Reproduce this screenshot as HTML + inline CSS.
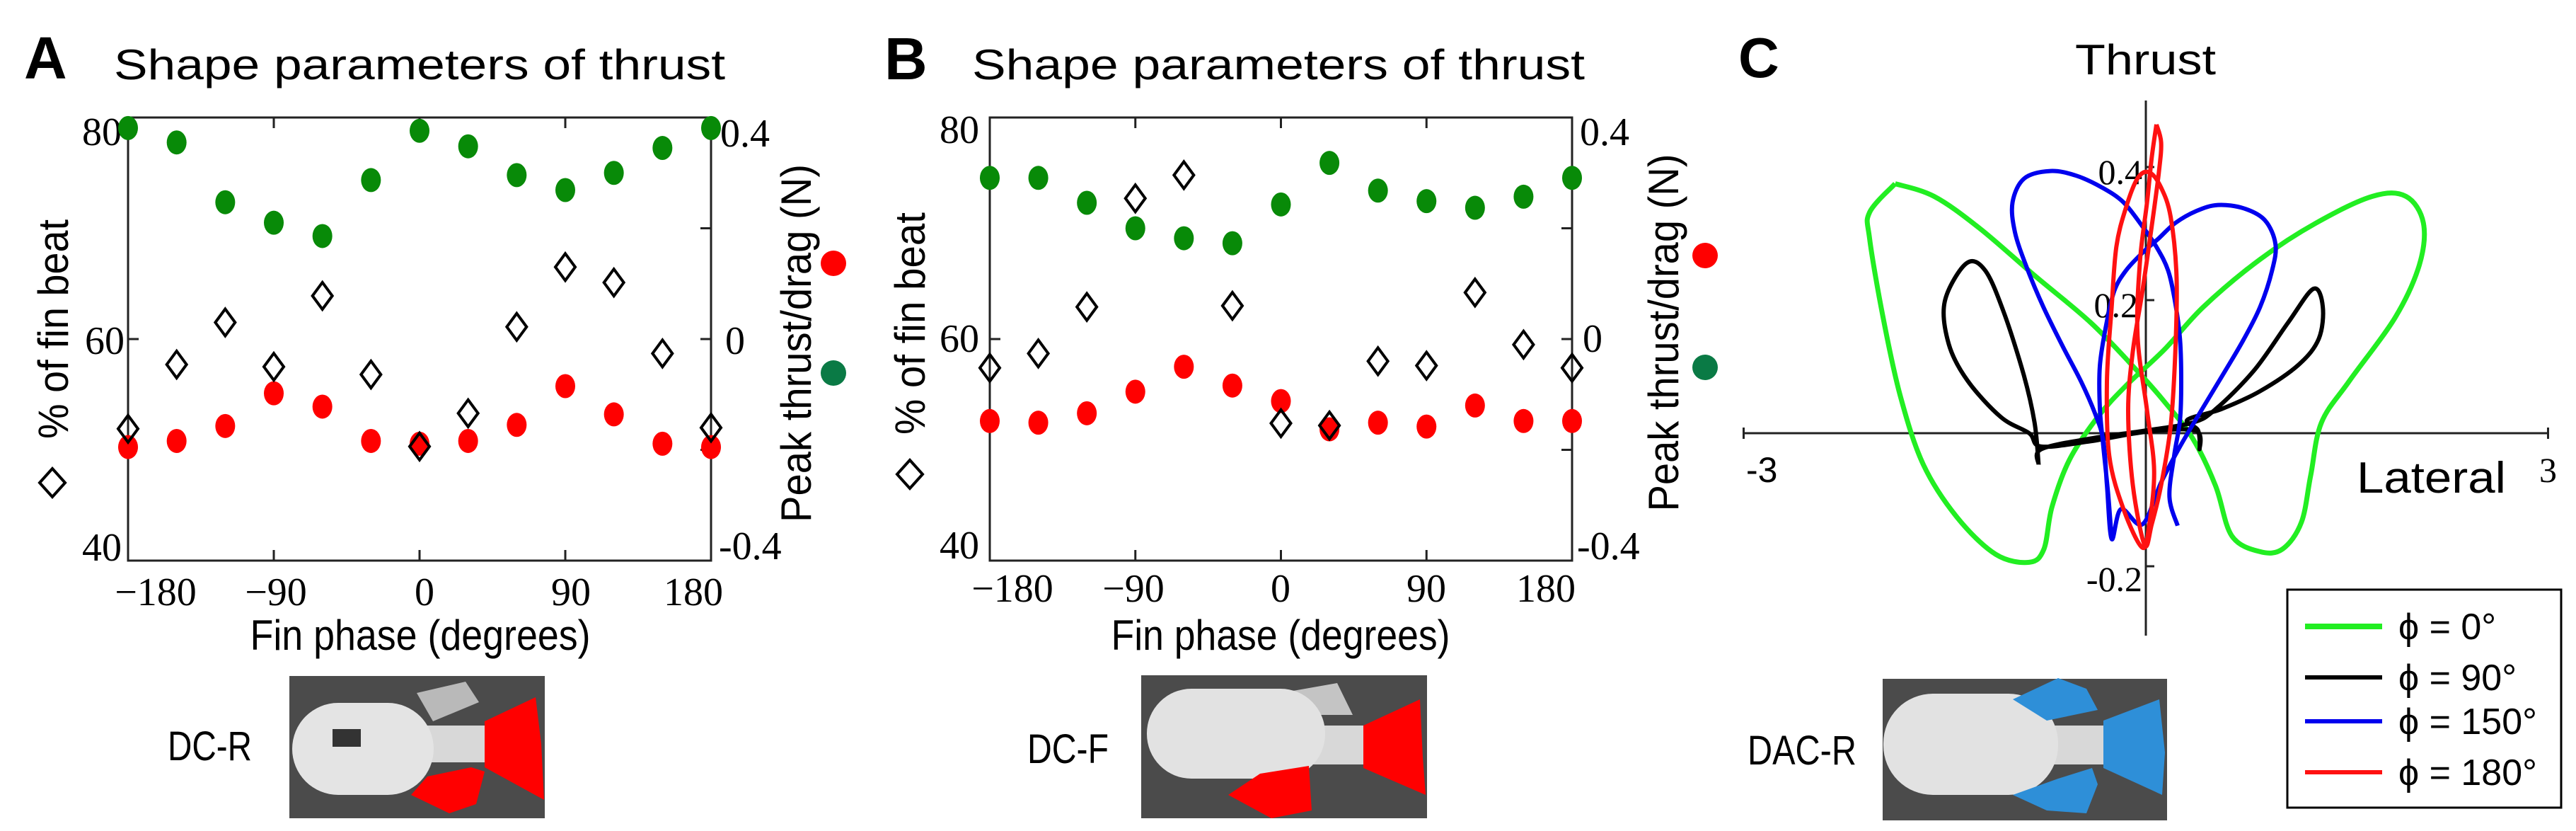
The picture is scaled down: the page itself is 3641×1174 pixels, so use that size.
<!DOCTYPE html>
<html><head><meta charset="utf-8"><style>
html,body{margin:0;padding:0;background:#fff;}
svg{display:block;}
.sans{font-family:"Liberation Sans",sans-serif;}
.serif{font-family:"Liberation Serif",serif;}
</style></head><body>
<svg id="fig" width="3641" height="1174" viewBox="0 0 3641 1174" xmlns="http://www.w3.org/2000/svg">
<rect width="3641" height="1174" fill="#fff"/>
<!-- Panel A static text -->
<g>
<text class="sans" x="34" y="111" font-size="84" font-weight="bold">A</text>
<text class="sans" x="161" y="112" font-size="60" textLength="864" lengthAdjust="spacingAndGlyphs">Shape parameters of thrust</text>
<text class="serif" x="172" y="205" font-size="56" text-anchor="end">80</text>
<text class="serif" x="176" y="500" font-size="56" text-anchor="end">60</text>
<text class="serif" x="172" y="792" font-size="56" text-anchor="end">40</text>
<text class="serif" x="1018" y="207" font-size="56">0.4</text>
<text class="serif" x="1025" y="500" font-size="56">0</text>
<text class="serif" x="1016" y="790" font-size="56">-0.4</text>
<text class="sans" x="594" y="918" font-size="60" text-anchor="middle" textLength="481" lengthAdjust="spacingAndGlyphs">Fin phase (degrees)</text>
<text class="sans" transform="translate(96,465) rotate(-90)" font-size="60" text-anchor="middle" textLength="310" lengthAdjust="spacingAndGlyphs">% of fin beat</text>
<polygon points="74,662 92,682 74,702 56,682" fill="none" stroke="#000" stroke-width="4"/>
<text class="sans" transform="translate(1146,485) rotate(-90)" font-size="60" text-anchor="middle" textLength="506" lengthAdjust="spacingAndGlyphs">Peak thrust/drag (N)</text>
<circle cx="1178" cy="372" r="18" fill="#ff0000"/>
<circle cx="1178" cy="527" r="18" fill="#0a7a45"/>
<text class="sans" x="237" y="1074" font-size="58" textLength="119" lengthAdjust="spacingAndGlyphs">DC-R</text>
<g>
<rect x="409" y="955" width="361" height="201" fill="#4b4b4b"/>
<polygon points="589,979 658,963 677,992 612,1019" fill="#b9b9b9"/>
<rect x="600" y="1025" width="89" height="52" fill="#d8d8d8"/>
<rect x="413" y="993" width="200" height="130" rx="65" fill="#e4e4e4"/>
<rect x="470" y="1030" width="40" height="25" fill="#333"/>
<polygon points="685,1019 757,985 765,1051 769,1130 685,1084" fill="#ff0000"/>
<polygon points="581,1123 604,1097 666,1084 685,1090 673,1136 635,1149" fill="#ff0000"/>
</g>
</g>
<!-- Panel B static text -->
<g>
<text class="sans" x="1250" y="112" font-size="84" font-weight="bold">B</text>
<text class="sans" x="1374" y="112" font-size="60" textLength="866" lengthAdjust="spacingAndGlyphs">Shape parameters of thrust</text>
<text class="serif" x="1384" y="202" font-size="56" text-anchor="end">80</text>
<text class="serif" x="1384" y="497" font-size="56" text-anchor="end">60</text>
<text class="serif" x="1384" y="789" font-size="56" text-anchor="end">40</text>
<text class="serif" x="2233" y="205" font-size="56">0.4</text>
<text class="serif" x="2237" y="497" font-size="56">0</text>
<text class="serif" x="2229" y="790" font-size="56">-0.4</text>
<text class="sans" x="1810" y="918" font-size="60" text-anchor="middle" textLength="479" lengthAdjust="spacingAndGlyphs">Fin phase (degrees)</text>
<text class="sans" transform="translate(1307,457) rotate(-90)" font-size="60" text-anchor="middle" textLength="314" lengthAdjust="spacingAndGlyphs">% of fin beat</text>
<polygon points="1286,650 1304,670 1286,690 1268,670" fill="none" stroke="#000" stroke-width="4"/>
<text class="sans" transform="translate(2372,470) rotate(-90)" font-size="60" text-anchor="middle" textLength="505" lengthAdjust="spacingAndGlyphs">Peak thrust/drag (N)</text>
<circle cx="2410" cy="361" r="18" fill="#ff0000"/>
<circle cx="2410" cy="519" r="18" fill="#0a7a45"/>
<text class="sans" x="1452" y="1078" font-size="58" textLength="115" lengthAdjust="spacingAndGlyphs">DC-F</text>
<g>
<rect x="1613" y="954" width="404" height="202" fill="#4b4b4b"/>
<polygon points="1805,980 1890,965 1912,1010 1850,1010" fill="#c4c4c4"/>
<rect x="1840" y="1025" width="90" height="55" fill="#d8d8d8"/>
<rect x="1621" y="973" width="252" height="127" rx="63" fill="#e2e2e2"/>
<polygon points="1927,1025 2007,988 2011,1070 2015,1123 1927,1085" fill="#ff0000"/>
<polygon points="1736,1123 1781,1093 1850,1082 1854,1145 1797,1156" fill="#ff0000"/>
</g>
</g>
<!-- Panel C static text -->
<g>
<text class="sans" x="2457" y="109" font-size="80" font-weight="bold">C</text>
<text class="sans" x="2933" y="105" font-size="60" textLength="199" lengthAdjust="spacingAndGlyphs">Thrust</text>
<text class="sans" x="2468" y="681" font-size="50">-3</text>
<text class="serif" x="3589" y="681" font-size="50">3</text>
<text class="sans" x="3331" y="696" font-size="62" textLength="211" lengthAdjust="spacingAndGlyphs">Lateral</text>
<text class="serif" x="3028" y="260" font-size="50" text-anchor="end">0.4</text>
<text class="serif" x="3022" y="448" font-size="50" text-anchor="end">0.2</text>
<text class="serif" x="3028" y="835" font-size="50" text-anchor="end">-0.2</text>
<text class="sans" x="2470" y="1080" font-size="58" textLength="154" lengthAdjust="spacingAndGlyphs">DAC-R</text>
<g>
<rect x="2661" y="959" width="402" height="200" fill="#4b4b4b"/>
<rect x="2880" y="1025" width="100" height="55" fill="#d8d8d8"/>
<rect x="2662" y="980" width="247" height="143" rx="70" fill="#e2e2e2"/>
<polygon points="2973,1018 3052,988 3060,1063 3056,1123 2973,1085" fill="#2e8fd8"/>
<polygon points="2845,988 2909,958 2949,973 2965,1003 2893,1018" fill="#2e8fd8"/>
<polygon points="2845,1123 2909,1100 2957,1085 2965,1108 2949,1149 2893,1145" fill="#2e8fd8"/>
</g>
<g>
<rect x="3233" y="833" width="387" height="308" fill="#fff" stroke="#000" stroke-width="3"/>
<line x1="3258" y1="885" x2="3367" y2="885" stroke="#22ee22" stroke-width="8"/>
<text class="sans" x="3390" y="903" font-size="52">ϕ = 0°</text>
<line x1="3258" y1="957" x2="3367" y2="957" stroke="#000" stroke-width="6"/>
<text class="sans" x="3390" y="975" font-size="52">ϕ = 90°</text>
<line x1="3258" y1="1019" x2="3367" y2="1019" stroke="#0000ee" stroke-width="6"/>
<text class="sans" x="3390" y="1037" font-size="52">ϕ = 150°</text>
<line x1="3258" y1="1091" x2="3367" y2="1091" stroke="#ff1111" stroke-width="6"/>
<text class="sans" x="3390" y="1109" font-size="52">ϕ = 180°</text>
</g>
</g>
<g id="marks"></g>
</svg>
<script>
// ---- data ----
const phases = [-180,-150,-120,-90,-60,-30,0,30,60,90,120,150,180];
const aGreen = [0.381,0.355,0.247,0.210,0.186,0.287,0.376,0.348,0.296,0.269,0.300,0.345,0.381];
const aRed = [-0.195,-0.184,-0.157,-0.098,-0.122,-0.184,-0.189,-0.184,-0.155,-0.085,-0.136,-0.189,-0.195];
const aDiamond = [51.9,57.7,61.5,57.5,63.9,56.8,50.3,53.3,61.1,66.5,65.1,58.7,52.0];
const bGreen = [0.291,0.291,0.246,0.200,0.182,0.173,0.243,0.318,0.268,0.249,0.237,0.257,0.291];
const bRed = [-0.148,-0.151,-0.134,-0.095,-0.050,-0.084,-0.112,-0.163,-0.151,-0.158,-0.120,-0.148,-0.148];
const bDiamond = [57.4,58.7,62.9,72.7,74.8,63.0,52.4,52.2,58.0,57.6,64.2,59.5,57.4];
const xTicks = [-180,-90,0,90,180];
const xTickLabels = ['\u2212180','\u221290','0','90','180'];
const rightTicks = [-0.2,0,0.2];
const cXTicks = [-3,3];
const cYTicks = [-0.2,0.2,0.4];
const greenX = [-1.87,-2.06,-2.06,-1.96,-1.83,-1.66,-1.41,-1.12,-0.87,-0.76,-0.70,-0.57,-0.36,-0.15,0.14,0.43,0.85,1.27,1.69,1.94,2.07,2.04,1.86,1.52,1.31,1.23,1.16,1.02,0.85,0.64,0.52,0.35,0.14,-0.07,-0.41,-0.83,-1.24,-1.58,-1.87];
const greenY = [0.375,0.332,0.292,0.174,0.055,-0.047,-0.126,-0.182,-0.194,-0.174,-0.111,-0.040,0.024,0.071,0.126,0.190,0.261,0.316,0.356,0.356,0.316,0.253,0.174,0.079,0.016,-0.063,-0.134,-0.174,-0.178,-0.154,-0.079,-0.008,0.047,0.095,0.166,0.237,0.308,0.356,0.375];
const blackX = [-0.80,-0.78,-0.41,0,0.35,0.52,0.81,1.06,1.25,1.32,1.29,1.14,0.85,0.56,0.31,0.39,0.40,0.37,0,-0.41,-0.78,-0.87,-1.08,-1.33,-1.47,-1.50,-1.34,-1.20,-1.06,-0.91,-0.83,-0.80];
const blackY = [-0.047,-0.024,-0.008,0.004,0.016,0.036,0.095,0.166,0.217,0.190,0.142,0.103,0.063,0.036,0.020,0.004,-0.024,0.004,0.002,-0.012,-0.020,0,0.024,0.079,0.134,0.198,0.255,0.245,0.182,0.087,0.016,-0.047];
const blueX = [0.237,0.176,0.211,0.255,0.264,0.255,0.220,0.167,0.079,-0.026,-0.167,-0.325,-0.519,-0.712,-0.906,-0.994,-0.976,-0.888,-0.765,-0.624,-0.484,-0.378,-0.317,-0.290,-0.255,-0.185,-0.026,0.114,0.255,0.413,0.572,0.730,0.853,0.941,0.967,0.888,0.730,0.537,0.378,0.220,0.097,-0.026,-0.150,-0.237,-0.299,-0.343,-0.343,-0.317,-0.281,-0.255];
const blueY = [-0.139,-0.096,-0.034,0.020,0.078,0.141,0.195,0.244,0.280,0.311,0.347,0.369,0.387,0.394,0.383,0.347,0.302,0.249,0.190,0.132,0.078,0.029,-0.011,-0.078,-0.159,-0.114,-0.137,-0.074,-0.020,0.034,0.087,0.141,0.190,0.244,0.284,0.320,0.338,0.343,0.334,0.316,0.293,0.271,0.244,0.213,0.159,0.101,0.038,-0.020,-0.092,-0.159];
const redX = [0.079,0.114,0.097,0.044,-0.026,-0.097,-0.132,-0.097,-0.009,0.044,0.114,0.185,0.220,0.229,0.185,0.114,0.026,-0.062,-0.150,-0.220,-0.255,-0.290,-0.273,-0.167,-0.026,0.026,0.062,0.009,-0.062,-0.044,0.009,0.044,0.079];
const redY = [0.464,0.437,0.392,0.311,0.213,0.123,0.034,-0.078,-0.168,-0.137,-0.078,0.011,0.123,0.235,0.325,0.369,0.392,0.383,0.338,0.280,0.190,0.078,-0.034,-0.114,-0.172,-0.137,-0.056,0.034,0.146,0.258,0.347,0.414,0.464];

const NS = 'http://www.w3.org/2000/svg';
const marks = document.getElementById('marks');
function mk(tag, attrs, parent) {
  const el = document.createElementNS(NS, tag);
  for (const k in attrs) el.setAttribute(k, attrs[k]);
  (parent || marks).appendChild(el);
  return el;
}
const yTop = 166, yBot = 792;
function yLeft(v) { return yBot - (v - 40) / 40 * (yBot - yTop); }
function yRight(v) { return (yTop + yBot) / 2 - v / 0.4 * (yBot - yTop) / 2; }

function drawPanel(id, x0, x1, green, red, diamond, labelCenters, labelBase) {
  const xs = v => x0 + (v + 180) / 360 * (x1 - x0);
  const box = mk('rect', {x: x0, y: yTop, width: x1 - x0, height: yBot - yTop, fill: 'none', stroke: '#222', 'stroke-width': 3});
  
  
  xTicks.forEach((t, i) => {
    const tk = mk('path', {d: `M${xs(t)},${yTop}v15M${xs(t)},${yBot}v-15`, stroke: '#222', 'stroke-width': 3});
    
    
    const lb = mk('text', {x: labelCenters[i], y: labelBase, 'font-size': 56, 'text-anchor': 'middle', class: 'serif'});
    lb.textContent = xTickLabels[i];
    
    
  });
  rightTicks.forEach(t => {
    const tk = mk('path', {d: `M${x1},${yRight(t)}h-15`, stroke: '#222', 'stroke-width': 3});
    
    
  });
  const lt = mk('path', {d: `M${x0},${yLeft(60)}h15`, stroke: '#222', 'stroke-width': 3});
  
  
  phases.forEach((p, i) => {
    const g = mk('ellipse', {cx: xs(p), cy: yRight(green[i]), rx: 14, ry: 17, fill: '#088a08'});
    
    
    const r = mk('ellipse', {cx: xs(p), cy: yRight(red[i]), rx: 14, ry: 17, fill: '#ff0000'});
    
    
  });
  phases.forEach((p, i) => {
    const cx = xs(p), cy = yLeft(diamond[i]);
    const d = mk('polygon', {points: `${cx},${cy-19} ${cx+14},${cy} ${cx},${cy+19} ${cx-14},${cy}`, fill: 'none', stroke: '#000', 'stroke-width': 4});
    
    
  });
}
drawPanel('a', 181, 1005, aGreen, aRed, aDiamond, [220,390,600,807,980], 855);
drawPanel('b', 1399, 2222, bGreen, bRed, bDiamond, [1431,1602,1810,2016,2185], 850);

// ---- Panel C ----
const cx0 = 3033, cy0 = 612, cxs = 189.5, cys = 940;
const cX = v => cx0 + v * cxs;
const cY = v => cy0 - v * cys;
const hAxis = mk('path', {d: `M${cX(-3)},${cy0}H${cX(3)}M${cX(-3)},${cy0-8}v16M${cX(3)},${cy0-8}v16`, stroke: '#222', 'stroke-width': 3, fill: 'none'});


const vAxis = mk('path', {d: `M${cx0},142V898`, stroke: '#222', 'stroke-width': 3});


cYTicks.forEach(t => {
  const tk = mk('path', {d: `M${cx0},${cY(t)}h12`, stroke: '#222', 'stroke-width': 3});
  
  
});
function smoothPath(xs, ys) {
  const P = xs.map((x, i) => [cX(x), cY(ys[i])]);
  let d = `M${P[0][0]},${P[0][1]}`;
  for (let i = 0; i < P.length - 1; i++) {
    const p0 = P[Math.max(i - 1, 0)], p1 = P[i], p2 = P[i + 1], p3 = P[Math.min(i + 2, P.length - 1)];
    const c1 = [p1[0] + (p2[0] - p0[0]) / 6, p1[1] + (p2[1] - p0[1]) / 6];
    const c2 = [p2[0] - (p3[0] - p1[0]) / 6, p2[1] - (p3[1] - p1[1]) / 6];
    d += `C${c1[0].toFixed(1)},${c1[1].toFixed(1)} ${c2[0].toFixed(1)},${c2[1].toFixed(1)} ${p2[0].toFixed(1)},${p2[1].toFixed(1)}`;
  }
  return d;
}
const g0 = mk('path', {d: smoothPath(greenX, greenY), fill: 'none', stroke: '#22ee22', 'stroke-width': 7, 'stroke-linejoin': 'round'});


const g90 = mk('path', {d: smoothPath(blackX, blackY), fill: 'none', stroke: '#000', 'stroke-width': 6, 'stroke-linejoin': 'round'});


const g150 = mk('path', {d: smoothPath(blueX, blueY), fill: 'none', stroke: '#0000ee', 'stroke-width': 6, 'stroke-linejoin': 'round'});


const g180 = mk('path', {d: smoothPath(redX, redY), fill: 'none', stroke: '#ff1111', 'stroke-width': 6, 'stroke-linejoin': 'round'});


</script>
</body></html>
